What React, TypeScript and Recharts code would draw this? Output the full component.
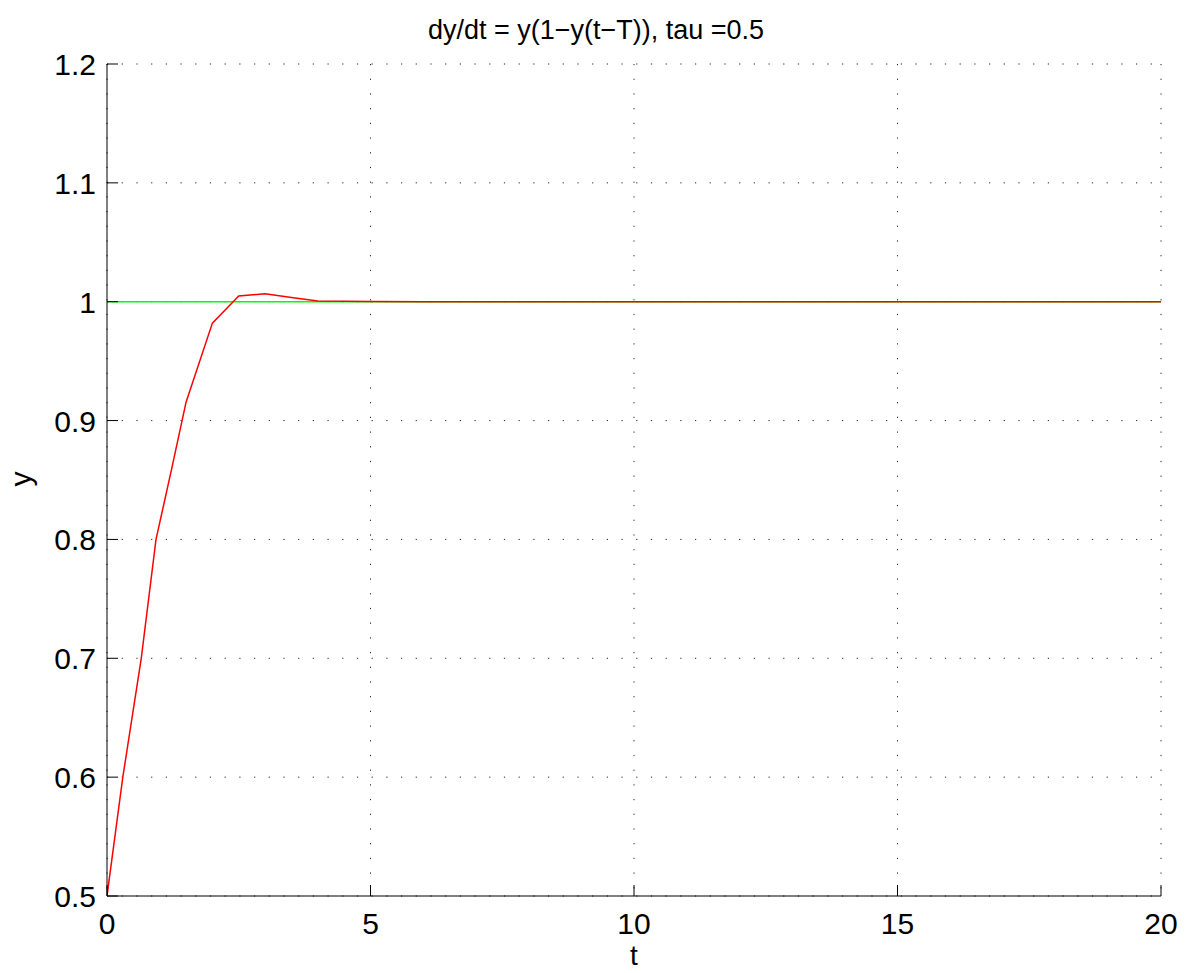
import {CartesianGrid, Line, LineChart, XAxis, YAxis} from "recharts";

// t / y
const tValues = [0, 0.3, 0.65, 0.93, 1.23, 1.5, 2, 2.5, 3, 3.5, 4, 5, 6, 8, 10, 12, 14, 16, 18, 20];
const yValues = [0.5, 0.6, 0.7, 0.8, 0.86, 0.9155, 0.982, 1.0048, 1.0066, 1.0035, 1.0007, 1.0002, 1, 1, 1, 1, 1, 1, 1, 1];

// equilibrium line y = 1
const eqT = [0, 20];
const eqY = [1, 1];

const xTicks = [0, 5, 10, 15, 20];
const yTicks = [0.5, 0.6, 0.7, 0.8, 0.9, 1, 1.1, 1.2];

const W = 1195;
const H = 973;
const PLOT_LEFT = 107;
const PLOT_RIGHT = 1161;
const PLOT_TOP = 64;
const PLOT_BOTTOM = 896;
const Y_AXIS_W = 60;
const X_AXIS_H = 60;
const FONT = "'Liberation Sans', Arial, Helvetica, sans-serif";
const TICK_FS = 30;

const solution = tValues.map((t, i) => ({t, y: yValues[i]}));
const equilibrium = eqT.map((t, i) => ({t, y: eqY[i]}));

function XTick(props: any) {
    const {x, payload} = props;
    return (
        <g>
            <line x1={x} x2={x} y1={PLOT_BOTTOM} y2={PLOT_BOTTOM - 11} stroke="#000" strokeWidth={1}/>
            <text x={x} y={PLOT_BOTTOM + 38} textAnchor="middle" fontSize={TICK_FS} fontFamily={FONT} fill="#000">
                {payload.value}
            </text>
        </g>
    );
}

function YTick(props: any) {
    const {y, payload} = props;
    return (
        <g>
            <line x1={PLOT_LEFT} x2={PLOT_LEFT + 11} y1={y} y2={y} stroke="#000" strokeWidth={1}/>
            <text x={PLOT_LEFT - 11} y={y + 11} textAnchor="end" fontSize={TICK_FS} fontFamily={FONT} fill="#000">
                {String(Math.round(payload.value * 10) / 10)}
            </text>
        </g>
    );
}

function App() {
    return (
        <div style={{
            position: "absolute", left: 0, top: 0, width: W, height: H, background: "#fff", overflow: "hidden",
        }}>
            <div style={{
                position: "absolute", left: 596 - 300, width: 600, top: 15, textAlign: "center",
                fontFamily: FONT, fontSize: 27, color: "#000", lineHeight: "30px",
            }}>
                dy/dt = y(1−y(t−T)), tau =0.5
            </div>
            <div style={{
                position: "absolute", left: (PLOT_LEFT + PLOT_RIGHT) / 2 - 50, width: 100, top: 944, height: 24,
                textAlign: "center", fontFamily: FONT, fontSize: 28, color: "#000", lineHeight: "24px",
            }}>
                t
            </div>
            <div style={{
                position: "absolute", left: 6, top: 464, width: 30, height: 30, display: "flex",
                alignItems: "center", justifyContent: "center", transform: "rotate(-90deg)",
                fontFamily: FONT, fontSize: TICK_FS, color: "#000",
            }}>
                y
            </div>
            <LineChart
                width={W}
                height={H}
                margin={{
                    top: PLOT_TOP,
                    right: W - PLOT_RIGHT,
                    bottom: H - PLOT_BOTTOM - X_AXIS_H,
                    left: PLOT_LEFT - Y_AXIS_W,
                }}
            >
                <CartesianGrid stroke="#222" strokeDasharray="1.2 13.5" strokeWidth={1}/>
                <XAxis
                    type="number"
                    dataKey="t"
                    domain={[0, 20]}
                    ticks={xTicks}
                    allowDataOverflow
                    height={X_AXIS_H}
                    axisLine={{stroke: "#000", strokeWidth: 1}}
                    tickLine={false}
                    tick={<XTick/>}
                />
                <YAxis
                    type="number"
                    domain={[0.5, 1.2]}
                    ticks={yTicks}
                    allowDataOverflow
                    width={Y_AXIS_W}
                    axisLine={{stroke: "#000", strokeWidth: 1}}
                    tickLine={false}
                    tick={<YTick/>}
                />
                <Line data={equilibrium} dataKey="y" type="linear" stroke="#00ff00" strokeWidth={1.5}
                      dot={false} activeDot={false} isAnimationActive={false}/>
                <Line data={solution} dataKey="y" type="linear" stroke="#ff0000" strokeWidth={1.5}
                      dot={false} activeDot={false} isAnimationActive={false}/>
            </LineChart>
        </div>
    );
}

export default App;
